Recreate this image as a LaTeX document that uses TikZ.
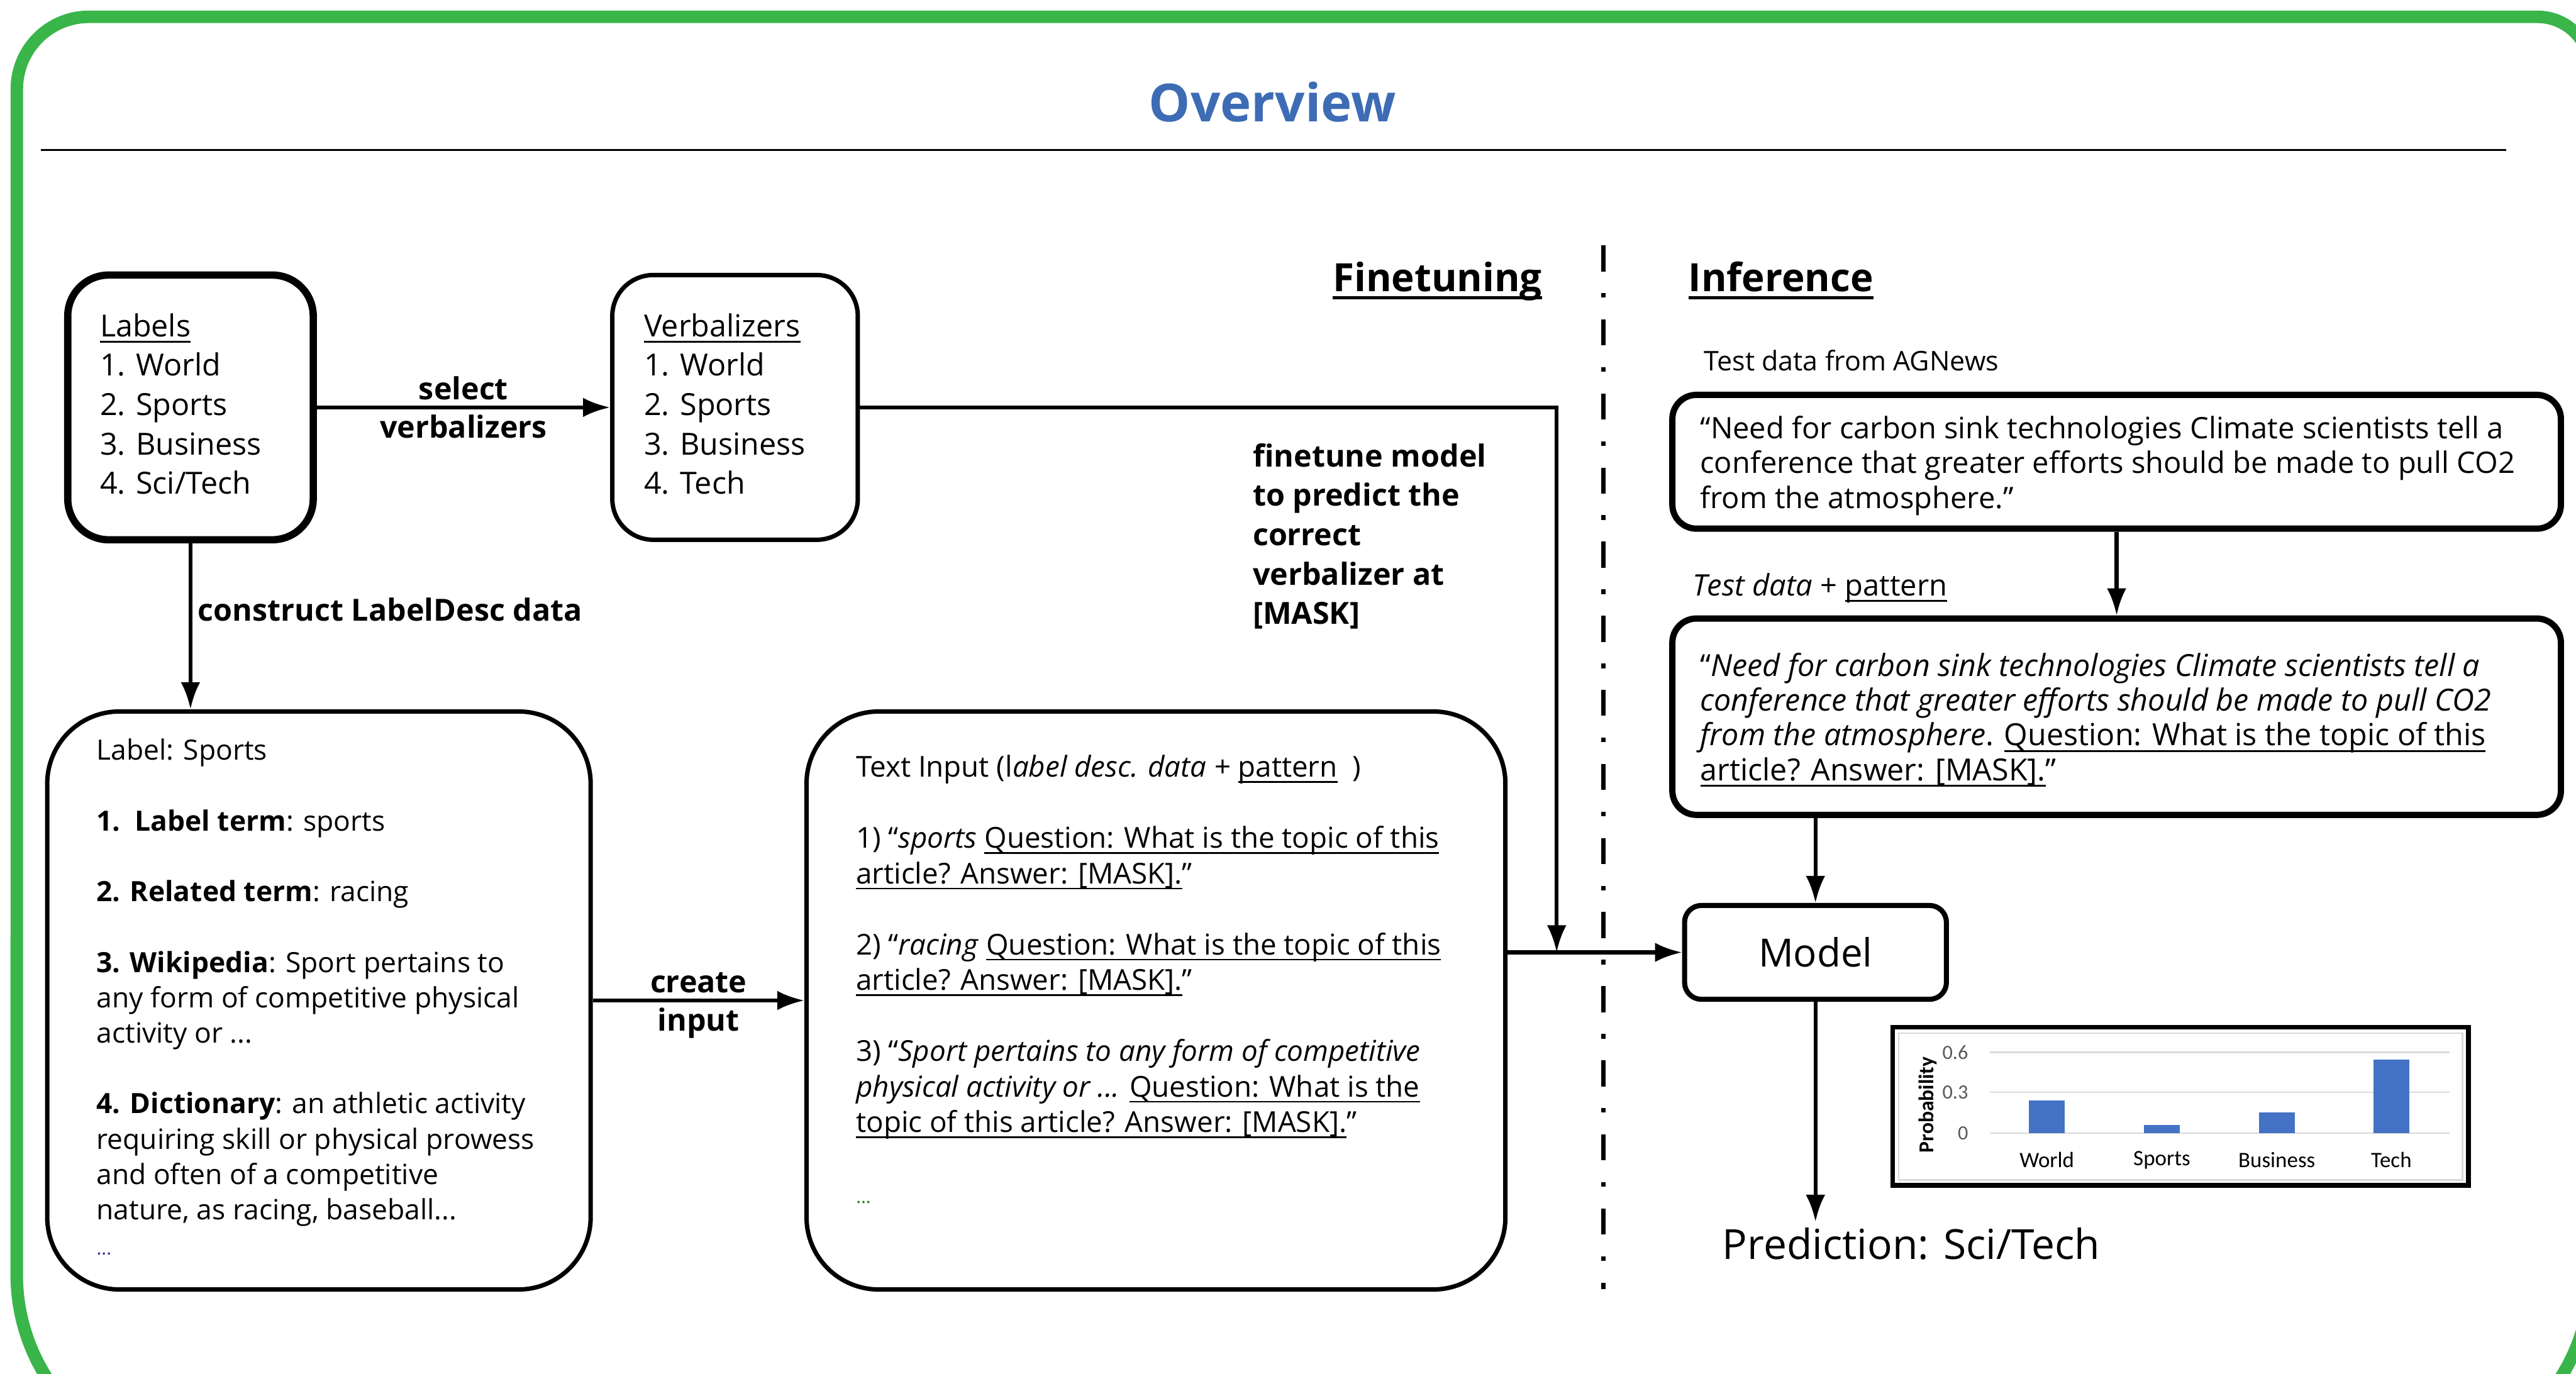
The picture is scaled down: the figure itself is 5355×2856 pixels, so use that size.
\documentclass[tikz,border=0pt]{standalone}
\usepackage{fontspec}
\setmainfont{Open Sans}
\newfontfamily\chartfont{Carlito}
\usetikzlibrary{arrows.meta}
\definecolor{framegreen}{RGB}{57,181,74}
\definecolor{titleblue}{RGB}{61,108,181}
\definecolor{barblue}{RGB}{68,114,196}
\definecolor{gridgray}{RGB}{217,217,217}
\definecolor{tickgray}{RGB}{89,89,89}
\definecolor{dotblue}{RGB}{60,50,150}
\definecolor{dotgreen}{RGB}{56,118,29}
\newcommand{\boxlines}[2]{\makebox[#1][l]{\begin{tabular}{@{}l@{}}#2\end{tabular}}}
\newcommand{\uln}[2][1pt]{\leavevmode\setbox0=\hbox{#2}\rlap{\rule[-0.2em]{\wd0}{#1}}\box0}

\begin{document}
\begin{tikzpicture}[x=0.01cm, y=-0.01cm,
  listbox/.style = {draw, rounded corners=0.85cm, inner sep=0pt, minimum width=5.1cm, minimum height=5.5cm, font=\fontsize{18}{23.3}\selectfont},
  descbox/.style = {draw, line width=2.6pt, rounded corners=1.5cm, inner sep=0pt, minimum height=12.01cm},
  testbox/.style = {draw, line width=3.7pt, rounded corners=0.5cm, inner sep=0pt, minimum width=18.46cm},
  arrow/.style = {line width=2.3pt, -{Latex[length=16pt, width=11.5pt]}},
  edgelabel/.style = {font=\bfseries\fontsize{18}{21}\selectfont},
  heading/.style = {font=\bfseries\fontsize{23}{28}\selectfont, anchor=base},
  plain/.style = {anchor=west}]
  \useasboundingbox (0,0) rectangle (5355,2856);

  % frame and title
  \begin{scope}
    \clip (0,0) rectangle (5355,2856);
    \draw[framegreen, line width=7.4pt] (35,1500) -- (35,185) arc[start angle=180, end angle=90, radius=1.5cm]
      -- (5275,35) arc[start angle=90, end angle=0, radius=1.1cm]
      -- (5385,2650) arc[start angle=0, end angle=-90, radius=4cm]
      -- (435,3050) arc[start angle=270, end angle=180, radius=4cm] -- cycle;
  \end{scope}
  \node[font=\bfseries\fontsize{31}{38}\selectfont, text=titleblue] (title) at (2645,212) {Overview};
  \draw[line width=1.2pt] (85,312) -- (5210,312);

  % finetuning side
  \node[listbox, line width=4.3pt] (labels) at (396,847) {\boxlines{3.76cm}{\uln{Labels}\\1. World\\2. Sports\\3. Business\\4. Sci/Tech}};
  \node[listbox, line width=2.6pt] (verbs) at (1528,847) {\boxlines{3.78cm}{\uln{Verbalizers}\\1. World\\2. Sports\\3. Business\\4. Tech}};
  \draw[arrow] (labels.east) -- node[edgelabel, above] {select} node[edgelabel, below] {verbalizers} (verbs.west);

  \node[descbox, minimum width=11.29cm, font=\fontsize{16.5}{20.9}\selectfont] (desc) at (663,2080) {\boxlines{9.24cm}{Label: Sports\\ \\
    \textbf{1.\ \ Label term}: sports\\ \\
    \textbf{2. Related term}: racing\\ \\
    \textbf{3. Wikipedia}: Sport pertains to\\ any form of competitive physical\\ activity or ...\\ \\
    \textbf{4. Dictionary}: an athletic activity\\ requiring skill or physical prowess\\ and often of a competitive\\ nature, as racing, baseball...\\
    {\color{dotblue}\fontsize{11}{12}\selectfont ...}}};
  \draw[arrow] (labels.south) -- node[edgelabel, right, pos=0.4] {construct LabelDesc data} (labels.south |- desc.north);

  \node[descbox, minimum width=14.52cm, font=\fontsize{17}{21}\selectfont] (input) at (2403,2080) {\boxlines{12.46cm}{Text Input (l\textit{abel desc. data +} \uln{pattern}\ \ )\\ \\
    1) “\textit{sports} \uln{Question: What is the topic of this}\\ \uln{article? Answer: [MASK].}”\\ \\
    2) “\textit{racing} \uln{Question: What is the topic of this}\\ \uln{article? Answer: [MASK].}”\\ \\
    3) “\textit{Sport pertains to any form of competitive}\\ \textit{physical activity or ...} \uln{Question: What is the}\\ \uln{topic of this article? Answer: [MASK].}”\\ \\
    {\color{dotgreen}\fontsize{11}{12}\selectfont ...}\\[20.5pt]}};
  \draw[arrow] (desc.east) -- node[edgelabel, above] {create} node[edgelabel, below] {input} (input.west);

  \node[edgelabel, align=left, anchor=west, font=\bfseries\fontsize{18}{23.3}\selectfont] (ftnote) at (2592,1115) {finetune model\\to predict the\\correct\\verbalizer at\\{[MASK]}};

  \node[heading] (ft) at (2988,606) {\uln[2pt]{Finetuning}};
  \draw[line width=2.85pt, dash pattern=on 15.4pt off 12.8pt on 2.8pt off 12.8pt] (3333,510) -- (3333,2680);
  \node[heading] (inf) at (3702,606) {\uln[2pt]{Inference}};

  % inference side
  \node[plain, font=\fontsize{16}{18}\selectfont] (agnews) at (3530,750) {Test data from AGNews};
  \node[testbox, minimum height=2.78cm, font=\fontsize{17.5}{20.5}\selectfont] (test) at (4400,960) {\boxlines{17.3cm}{\rule{0pt}{20pt}“Need for carbon sink technologies Climate scientists tell a\\
    conference that greater efforts should be made to pull CO2\\ from the atmosphere.”}};
  \node[plain, font=\fontsize{17.5}{19}\selectfont] (patnote) at (3506,1223) {\textit{Test data} + \uln{pattern}};
  \node[testbox, minimum height=4.08cm, font=\fontsize{18}{20.5}\selectfont] (prompt) at (4400,1490) {\boxlines{17.3cm}{\rule{0pt}{20pt}“\textit{Need for carbon sink technologies Climate scientists tell a}\\
    \textit{conference that greater efforts should be made to pull CO2}\\
    \textit{from the atmosphere}. \uln{Question: What is the topic of this}\\
    \uln{article? Answer: [MASK].}”}};
  \draw[arrow] (test.south) -- (prompt.north);

  \node[draw, line width=3pt, rounded corners=0.35cm, minimum width=5.44cm, minimum height=1.95cm, inner sep=0pt, font=\fontsize{23}{28}\selectfont] (model) at (3774,1980) {Model};
  \coordinate (join) at (3236,1980);
  \draw[arrow] (input.east |- model.west) -- (model.west);
  \draw[arrow] (verbs.east) -| (join);
  \draw[arrow] (model.north |- prompt.south) -- (model.north);

  \node[font=\fontsize{24.5}{29}\selectfont, anchor=base] (pred) at (3973,2618) {Prediction: Sci/Tech};
  \draw[arrow] (model.south) -- (model.south |- pred.north);

  % probability chart
  \node[draw, line width=2.8pt, minimum width=11.96cm, minimum height=3.29cm, inner sep=0pt] (chart) at (4533,2300) {};
  \draw[gray!30, line width=1pt] (3947,2148) rectangle (5119,2453);
  \foreach \v/\yy/\n in {0/2356/a, 0.3/2271/b, 0.6/2188/c} {
    \draw[gridgray, line width=0.9pt] (4136,\yy) -- (5092,\yy);
    \node[anchor=east, inner sep=0pt, text=tickgray, font=\chartfont\fontsize{12}{14}\selectfont] (tick-\n) at (4092,\yy) {\v};
  }
  \foreach \cx/\p/\cat in {4255/0.243/World, 4494/0.06/Sports, 4733/0.154/Business, 4971/0.546/Tech} {
    \fill[barblue] ({\cx-37},2356) rectangle ({\cx+37},{2356-280*\p});
    \node[font=\chartfont\fontsize{13}{15}\selectfont] (cat-\cat) at (\cx,2412) {\cat};
  }
  \node[rotate=90, font=\chartfont\bfseries\fontsize{12.5}{14}\selectfont] (ylabel) at (4008,2297) {Probability};
\end{tikzpicture}
\end{document}
